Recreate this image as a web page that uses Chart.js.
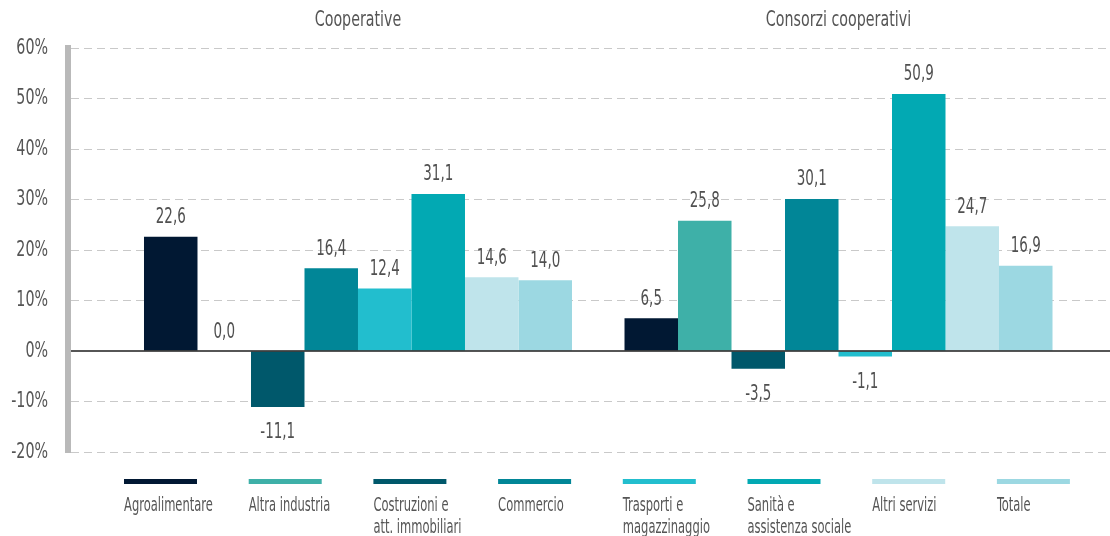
<!DOCTYPE html>
<html>
<head>
<meta charset="utf-8">
<script src="https://cdn.jsdelivr.net/npm/chart.js@4.4.1/dist/chart.umd.min.js"></script>
<style>
  html, body { margin: 0; padding: 0; background: #fff; }
  #wrap { width: 1110px; height: 536px; position: relative; }
</style>
</head>
<body>
<div id="wrap"><canvas id="c" width="1110" height="536"></canvas></div>
<script>
// ---- data ----
const groups = ['Cooperative', 'Consorzi cooperativi'];
const seriesNames = ['Agroalimentare', 'Altra industria', 'Costruzioni e\natt. immobiliari', 'Commercio',
  'Trasporti e\nmagazzinaggio', 'Sanità e\nassistenza sociale', 'Altri servizi', 'Totale'];
const agroalimentare = [22.6, 6.5];
const altraIndustria = [0.0, 25.8];
const costruzioni = [-11.1, -3.5];
const commercio = [16.4, 30.1];
const trasporti = [12.4, -1.1];
const sanita = [31.1, 50.9];
const altriServizi = [14.6, 24.7];
const totale = [14.0, 16.9];
const yTicks = [-20, -10, 0, 10, 20, 30, 40, 50, 60];

const seriesValues = [agroalimentare, altraIndustria, costruzioni, commercio, trasporti, sanita, altriServizi, totale];
const colors = ['#011833', '#3eb0a8', '#00586b', '#018697', '#22bece', '#02a9b3', '#bfe4eb', '#9cd8e2'];

const FONT = "'DejaVu Sans Condensed', 'DejaVu Sans', sans-serif";
const TEXT = '#555555';
const DEFAULT_SX = 0.72;

const datasets = seriesValues.map((vals, i) => ({
  label: seriesNames[i],
  data: vals.map((v, g) => ({ x: g, y: v })),
  backgroundColor: colors[i],
  borderWidth: 0,
  categoryPercentage: 0.8907,
  barPercentage: 1.0
}));

function fmt(v) { return v.toFixed(1).replace('.', ','); }

// horizontally condensed text (reference uses a condensed typeface)
const condense = {
  id: 'condense',
  beforeDraw(chart) {
    const ctx = chart.ctx;
    if (ctx.__patched) return;
    const orig = ctx.fillText;
    ctx.fillText = function (t, x, y) {
      const sx = this.__sx || DEFAULT_SX;
      this.save();
      this.translate(x, y);
      this.scale(sx, 1);
      orig.call(this, t, 0, 0);
      this.restore();
    };
    ctx.__patched = true;
  }
};

const extras = {
  id: 'extras',
  afterDatasetsDraw(chart) {
    const ctx = chart.ctx;
    const ys = chart.scales.y;
    const area = chart.chartArea;
    // zero line
    const y0 = ys.getPixelForValue(0);
    ctx.save();
    ctx.strokeStyle = '#1e1e1e';
    ctx.lineWidth = 1.6;
    ctx.beginPath();
    ctx.moveTo(area.left + 3, y0);
    ctx.lineTo(area.right, y0);
    ctx.stroke();
    ctx.restore();
    // value labels
    ctx.save();
    ctx.fillStyle = '#505050';
    ctx.font = '22px ' + FONT;
    ctx.textAlign = 'center';
    ctx.textBaseline = 'alphabetic';
    ctx.__sx = 0.68;
    chart.data.datasets.forEach((ds, di) => {
      const meta = chart.getDatasetMeta(di);
      meta.data.forEach((bar, i) => {
        const v = ds.data[i].y;
        const y = v >= 0 ? bar.y - 13.5 : bar.y + 31;
        ctx.fillText(fmt(v), bar.x, y);
      });
    });
    ctx.__sx = 0;
    ctx.restore();
  },
  afterDraw(chart) {
    const ctx = chart.ctx;
    const x0 = 124, step = 124.7, swW = 73, swY = 479, swH = 5;
    ctx.save();
    ctx.font = '20px ' + FONT;
    ctx.textAlign = 'left';
    ctx.textBaseline = 'alphabetic';
    ctx.__sx = 0.64;
    chart.data.datasets.forEach((ds, i) => {
      const x = x0 + i * step;
      ctx.fillStyle = ds.backgroundColor;
      ctx.fillRect(x, swY, swW, swH);
      ctx.fillStyle = TEXT;
      ds.label.split('\n').forEach((line, li) => {
        ctx.fillText(line, x, 511 + li * 21.7);
      });
    });
    ctx.__sx = 0;
    ctx.restore();
  }
};

new Chart(document.getElementById('c'), {
  type: 'bar',
  data: { datasets },
  options: {
    responsive: false,
    animation: false,
    devicePixelRatio: 1,
    layout: { padding: { left: 0, right: 0, top: 0, bottom: 84 } },
    plugins: { legend: { display: false }, tooltip: { enabled: false } },
    scales: {
      x: {
        type: 'linear',
        position: 'top',
        offset: false,
        min: -0.6035,
        max: 1.565,
        afterBuildTicks(scale) { scale.ticks = groups.map((g, i) => ({ value: i })); },
        afterFit(scale) { scale.height = 48; },
        ticks: {
          padding: 15,
          color: TEXT,
          font: { family: FONT, size: 22 },
          callback: (v) => groups[Math.round(v)] || ''
        },
        grid: { display: false, drawTicks: false, offset: false },
        border: { display: false }
      },
      y: {
        min: -20,
        max: 60,
        afterBuildTicks(scale) { scale.ticks = yTicks.map(v => ({ value: v })); },
        afterFit(scale) { scale.width = 68; },
        ticks: {
          padding: 20,
          color: TEXT,
          font: { family: FONT, size: 22 },
          callback: (v) => v + '%'
        },
        grid: {
          drawTicks: false,
          color: (c) => (c.tick && c.tick.value === 0) ? 'rgba(0,0,0,0)' : '#c9c9c9',
          lineWidth: 1
        },
        border: { display: true, color: '#b9b9b9', width: 6, dash: [8, 5] }
      }
    }
  },
  plugins: [condense, extras]
});
</script>
</body>
</html>
